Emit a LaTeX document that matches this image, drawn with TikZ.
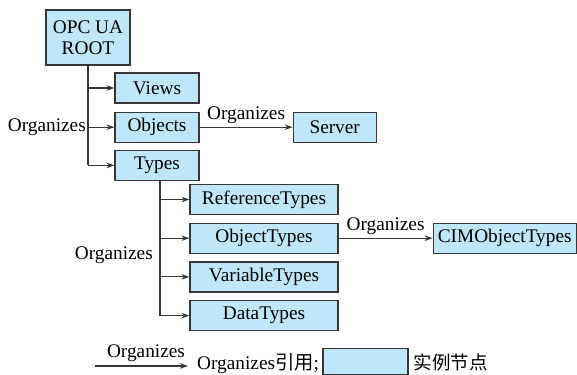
\documentclass[tikz,border=0pt]{standalone}
\usepackage{fontspec}
\setmainfont{Liberation Serif}
\newfontfamily\cjk{Noto Sans CJK SC}
\usepackage{tikz}
\usetikzlibrary{arrows.meta,positioning,calc}
\definecolor{instblue}{RGB}{191,231,249}
\definecolor{linegray}{RGB}{55,55,55}

\begin{document}
\begin{tikzpicture}[
    x=1pt, y=-1pt,
    node distance=8pt,
    >={Stealth[length=8pt,width=5.5pt]},
    font=\rmfamily\fontsize{19.3}{21}\selectfont,
    inst/.style={
		rectangle,
		draw=linegray,
		line width=1.2pt,
		fill=instblue,
		text centered,
		minimum height=30pt,
		inner sep=2pt
	},
	ref/.style={
		draw=linegray,
		line width=1.1pt
	},
	label/.style={
		inner sep=2pt
	}
  ]
  \useasboundingbox (0,0) rectangle (577,374);
    % We start by placing the blocks

  \node [inst, minimum width=84pt, minimum height=55pt, align=center] (root) at (88,37.5)
 {OPC UA\\ROOT};

  \node [inst, minimum width=84pt] (views) at (157,88) {Views};
  \node [inst, minimum width=84pt, below=of views] (objects) {Objects};
  \node [inst, minimum width=84pt, below=7pt of objects] (types) {Types};
  \node [inst, minimum width=83pt, right=93pt of objects] (server) {Server};

  \node [inst, minimum width=148pt] (reftypes) at (264,199.5) {ReferenceTypes};
  \node [inst, minimum width=148pt, below=7.5pt of reftypes] (objtypes) {ObjectTypes};
  \node [inst, minimum width=148pt, below=7.5pt of objtypes] (vartypes) {VariableTypes};
  \node [inst, minimum width=148pt, below=7.5pt of vartypes] (datatypes) {DataTypes};
  \node [inst, minimum width=143pt, right=94pt of objtypes] (cimtypes) {CIMObjectTypes};

  % references from the root
  \draw [ref] (root.south) -- (root.south |- types.west);
  \foreach \n in {views,objects,types}
    \draw [ref,->] (root.south |- \n.west) -- (\n.west);
  \node [label, anchor=east] at (root.south |- objects.west) {Organizes};

  % references from Types
  \coordinate (spine) at ([xshift=3pt]types.south);
  \draw [ref] (spine) -- (spine |- datatypes.west);
  \foreach \n in {reftypes,objtypes,vartypes,datatypes}
    \draw [ref,->] (spine |- \n.west) -- (\n.west);
  \node [label, anchor=east, xshift=-5pt] at ($(spine |- objtypes.west)!0.45!(spine |- vartypes.west)$) {Organizes};

  \draw [ref,->] (objects) -- node [label, above, yshift=1pt] {Organizes} (server);
  \draw [ref,->] (objtypes) -- node [label, above, yshift=1pt] {Organizes} (cimtypes);

  % legend
  \coordinate (legstart) at (95,366);
  \node [anchor=base west, inner sep=0pt] (legtext) at (197,369.5) {Organizes{\cjk 引用};};
  \draw [ref,->, shorten >=9pt] (legstart) -- node [label, above, yshift=2pt] {Organizes} (legstart -| legtext.west);
  \node [inst, line width=1.1pt, minimum width=85pt, minimum height=26pt] (legbox) at (365.5,361.5) {};
  \node [anchor=base west, inner sep=0pt, font=\fontsize{18.5}{20}\selectfont\cjk] (legname) at ([xshift=5pt]legbox.east |- legtext.base) {实例节点};

\end{tikzpicture}
\end{document}
